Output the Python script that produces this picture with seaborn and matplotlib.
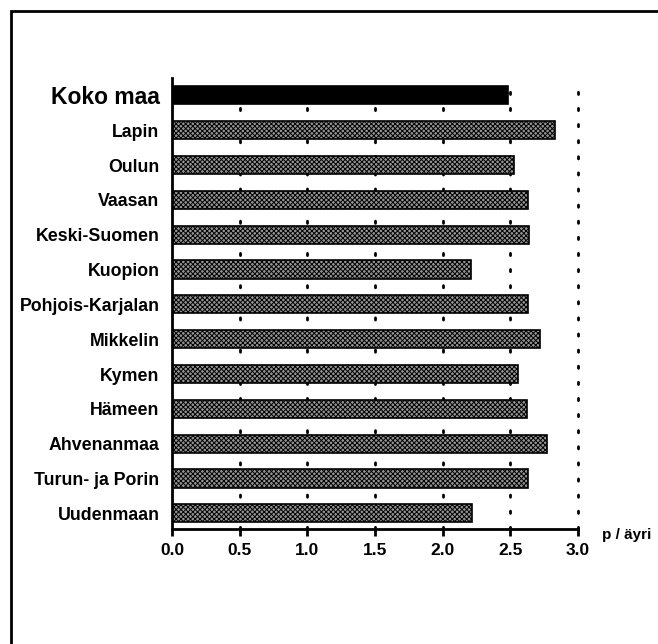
import matplotlib
matplotlib.use('Agg')
import matplotlib.pyplot as plt
import seaborn as sns
import pandas as pd
from matplotlib.patches import Rectangle

# ─── Data ────────────────────────────────────────────────────────────────
regions = ['Koko maa', 'Lapin', 'Oulun', 'Vaasan', 'Keski-Suomen', 'Kuopion',
           'Pohjois-Karjalan', 'Mikkelin', 'Kymen', 'Hämeen', 'Ahvenanmaa',
           'Turun- ja Porin', 'Uudenmaan']
values = [2.48, 2.83, 2.53, 2.63, 2.64, 2.21,
          2.63, 2.72, 2.56, 2.62, 2.77,
          2.63, 2.22]
xticks = [0.0, 0.5, 1.0, 1.5, 2.0, 2.5, 3.0]
xlabel = 'p / äyri'

df = pd.DataFrame({'region': regions, 'value': values})
colors = ['#000000'] + ['#959595'] * (len(regions) - 1)

sns.set_style('white')
plt.rcParams['font.family'] = ['Liberation Sans', 'DejaVu Sans']
plt.rcParams['hatch.linewidth'] = 0.7
plt.rcParams['text.color'] = 'black'
plt.rcParams['xtick.color'] = 'black'
plt.rcParams['ytick.color'] = 'black'

fig = plt.figure(figsize=(6.58, 6.44), dpi=100)
ax = fig.add_axes([0.2614, 0.1786, 0.617, 0.7003])

# dotted vertical guides behind the bars
for x in xticks[1:]:
    ax.axvline(x, color='black', linestyle=(0, (0.8, 5)), linewidth=2,
               dash_capstyle='round', zorder=0, clip_on=False)

sns.barplot(data=df, x='value', y='region', hue='region', palette=colors,
            legend=False, width=0.52, orient='h', ax=ax, zorder=2)

for i, patch in enumerate(ax.patches):
    patch.set_edgecolor('black')
    patch.set_linewidth(1.2)
    if i > 0:
        patch.set_hatch('xxxxxxx')

ax.set_xlim(0, 3.0)
ax.set_ylim(12.45, -0.5)
ax.set_xticks(xticks)
ax.set_xticklabels([f'{t:.1f}' for t in xticks], fontsize=12.5, fontweight='bold')
ax.set_xlabel('')
ax.set_ylabel('')
ax.tick_params(axis='x', bottom=True, direction='out', length=5, width=2,
               color='black', labelcolor='black', pad=5)
ax.tick_params(axis='y', left=False, length=0, pad=9, labelcolor='black')

for i, lbl in enumerate(ax.get_yticklabels()):
    if i == 0:
        lbl.set_fontsize(16.5)
    else:
        lbl.set_fontsize(12.8)
    lbl.set_fontweight('bold')

for side in ['top', 'right']:
    ax.spines[side].set_visible(False)
for side in ['left', 'bottom']:
    ax.spines[side].set_linewidth(2)
    ax.spines[side].set_color('black')

fig.text(602 / 658, 1 - 535 / 644, xlabel, fontsize=11, fontweight='bold',
         ha='left', va='center', color='black')

# page frame (only the top and left edges survive the scan)
frame = Rectangle((11 / 658, -0.1), 1.2, 1.1 - 11 / 644, transform=fig.transFigure,
                  fill=False, edgecolor='black', linewidth=2, clip_on=False)
fig.add_artist(frame)

plt.savefig('out.png', dpi=100)
plt.close()
